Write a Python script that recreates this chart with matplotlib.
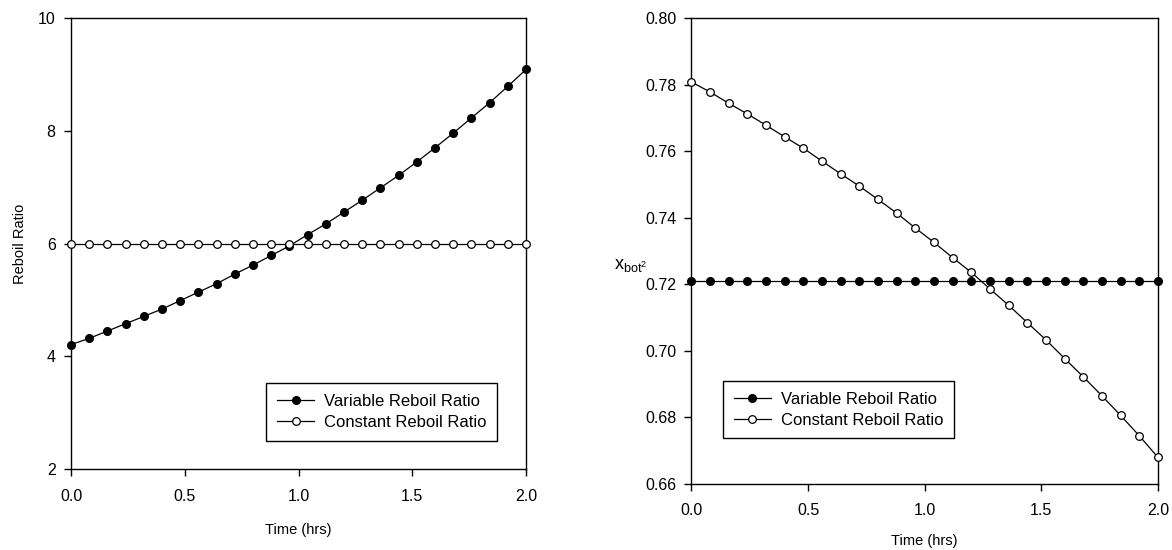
import numpy as np
import matplotlib
matplotlib.use('Agg')
import matplotlib.pyplot as plt

plt.rcParams['font.family'] = ['Liberation Sans', 'DejaVu Sans']
plt.rcParams['mathtext.fontset'] = 'custom'
plt.rcParams['mathtext.rm'] = 'Liberation Sans'
plt.rcParams['mathtext.it'] = 'Liberation Sans'

# time points (hrs)
time = [i * 0.08 for i in range(26)]

# left panel: reboil ratio
reboil_variable = [4.21, 4.32, 4.45, 4.58, 4.71, 4.84, 4.99, 5.14, 5.29, 5.46,
                   5.62, 5.79, 5.96, 6.16, 6.35, 6.56, 6.77, 6.99, 7.21, 7.45,
                   7.70, 7.96, 8.23, 8.50, 8.79, 9.09]
reboil_constant = [6.0] * 26

# right panel: x_bot2
xbot_variable = [0.721] * 26
xbot_constant = [0.7808, 0.7778, 0.7744, 0.7712, 0.7678, 0.7643, 0.7609, 0.7570,
                 0.7532, 0.7495, 0.7455, 0.7414, 0.7369, 0.7326, 0.7280, 0.7236,
                 0.7186, 0.7137, 0.7085, 0.7033, 0.6977, 0.6922, 0.6865, 0.6806,
                 0.6745, 0.6680]

labels = ['Variable Reboil Ratio', 'Constant Reboil Ratio']
xticks = [0.0, 0.5, 1.0, 1.5, 2.0]

fig = plt.figure(figsize=(11.72, 5.5), dpi=100)
ax1 = fig.add_axes([0.0606, 0.147, 0.3882, 0.820])
ax2 = fig.add_axes([0.590, 0.120, 0.398, 0.847])


def style(ax, xpad):
    for s in ax.spines.values():
        s.set_linewidth(1.0)
        s.set_color('black')
    ax.tick_params(direction='out', length=5, width=1, labelsize=11.5,
                   top=False, right=False, pad=6)
    ax.tick_params(axis='x', pad=9)
    ax.set_xticks(xticks)
    ax.set_xticklabels(['%.1f' % t for t in xticks])
    ax.set_xlim(0, 2.0)
    ax.set_xlabel('Time (hrs)', fontsize=10.5, labelpad=xpad)


def series(ax, y_var, y_con):
    ax.plot(time, y_var, '-o', color='black', lw=0.9, ms=5.5,
            mfc='black', mec='black', label=labels[0], clip_on=False, zorder=3)
    ax.plot(time, y_con, '-o', color='black', lw=0.9, ms=5.5,
            mfc='white', mec='black', mew=0.9, label=labels[1], clip_on=False, zorder=4)


def legend(ax, loc, anchor):
    leg = ax.legend(loc=loc, bbox_to_anchor=anchor, fontsize=12,
                    frameon=True, fancybox=False, edgecolor='black', framealpha=1,
                    handlelength=2.2, handletextpad=0.6, borderpad=0.65,
                    labelspacing=0.35)
    leg.get_frame().set_linewidth(1.0)


series(ax1, reboil_variable, reboil_constant)
style(ax1, 14)
ax1.set_ylim(2, 10)
ax1.set_yticks([2, 4, 6, 8, 10])
ax1.set_ylabel('Reboil Ratio', fontsize=10.5, labelpad=8)
legend(ax1, 'lower right', (0.955, 0.045))

series(ax2, xbot_variable, xbot_constant)
style(ax2, 11)
ax2.set_ylim(0.66, 0.80)
ax2.set_yticks(np.arange(0.66, 0.801, 0.02))
ax2.set_yticklabels(['%.2f' % v for v in np.arange(0.66, 0.801, 0.02)])
ax2.set_ylabel(r'$\mathrm{x_{bot^2}}$', fontsize=13, rotation=0)
ax2.yaxis.set_label_coords(-0.13, 0.45)
legend(ax2, 'lower left', (0.05, 0.08))

fig.savefig('out.png', dpi=100)
